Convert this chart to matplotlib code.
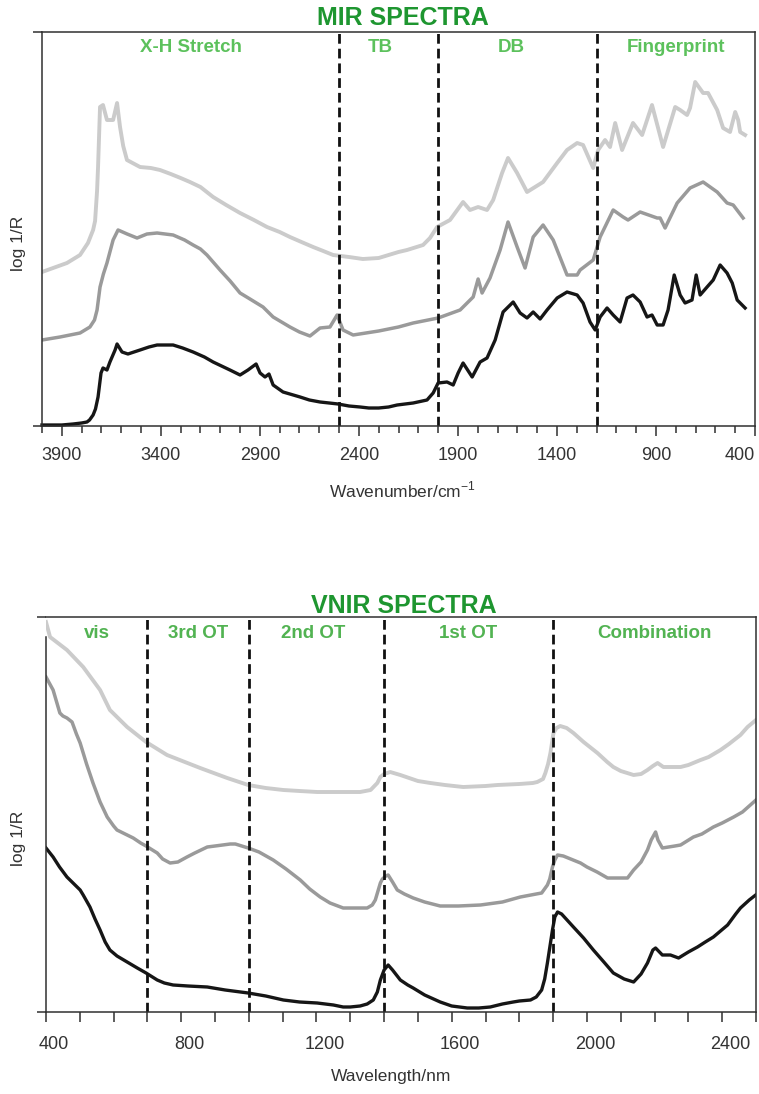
import matplotlib
matplotlib.use("Agg")
import matplotlib.pyplot as plt
from matplotlib.transforms import ScaledTranslation

plt.rcParams["font.family"] = ["Liberation Sans", "DejaVu Sans"]
plt.rcParams["mathtext.fontset"] = "custom"
plt.rcParams["mathtext.rm"] = "Liberation Sans"

# ---- MIR spectra (wavenumber / cm-1, log 1/R in arbitrary offset units) ----
MIR_WN_DARK = [4000, 3900, 3843, 3800, 3773, 3760, 3742, 3730, 3717, 3702, 3692, 3672,
               3657, 3631, 3621, 3596, 3566, 3505, 3460, 3419, 3380, 3338, 3290, 3237,
               3180, 3136, 3051, 3000, 2960, 2919, 2899, 2874, 2854, 2833, 2783, 2697,
               2650, 2596, 2550, 2505, 2450, 2394, 2350, 2300, 2250, 2207, 2126, 2056,
               2025, 2000, 1955, 1924, 1899, 1874, 1828, 1788, 1753, 1712, 1672, 1621,
               1586, 1551, 1520, 1485, 1450, 1399, 1349, 1298, 1268, 1233, 1207, 1182,
               1147, 1116, 1081, 1046, 1016, 980, 945, 920, 894, 864, 839, 808, 778,
               753, 718, 697, 677, 642, 611, 576, 541, 515, 490, 450]
MIR_DARK = [0.01, 0.01, 0.02, 0.03, 0.04, 0.06, 0.11, 0.17, 0.29, 0.53, 0.58, 0.56,
            0.64, 0.76, 0.82, 0.74, 0.72, 0.76, 0.79, 0.81, 0.81, 0.81, 0.78, 0.74,
            0.69, 0.64, 0.56, 0.51, 0.56, 0.62, 0.53, 0.49, 0.52, 0.41, 0.34, 0.29,
            0.26, 0.24, 0.23, 0.22, 0.20, 0.19, 0.18, 0.18, 0.19, 0.21, 0.23, 0.26,
            0.33, 0.43, 0.44, 0.41, 0.53, 0.63, 0.49, 0.64, 0.68, 0.86, 1.14, 1.24,
            1.13, 1.08, 1.14, 1.07, 1.16, 1.28, 1.34, 1.31, 1.23, 1.04, 0.96, 1.09,
            1.18, 1.11, 1.04, 1.28, 1.31, 1.24, 1.09, 1.11, 1.01, 1.01, 1.16, 1.51,
            1.31, 1.23, 1.26, 1.51, 1.31, 1.39, 1.46, 1.61, 1.53, 1.43, 1.26, 1.18]

MIR_WN_MID = [4000, 3909, 3808, 3758, 3735, 3722, 3707, 3690, 3672, 3641, 3616, 3570,
              3520, 3470, 3419, 3338, 3280, 3237, 3200, 3167, 3101, 3050, 3000, 2950,
              2884, 2833, 2748, 2700, 2647, 2596, 2546, 2510, 2480, 2429, 2300, 2200,
              2126, 2000, 1889, 1823, 1798, 1778, 1738, 1687, 1647, 1601, 1561, 1520,
              1470, 1419, 1349, 1298, 1283, 1217, 1182, 1116, 1066, 1041, 980, 894,
              879, 854, 793, 728, 662, 591, 541, 510, 460]
MIR_MID = [0.86, 0.89, 0.93, 0.99, 1.06, 1.16, 1.39, 1.52, 1.63, 1.86, 1.96, 1.92,
           1.88, 1.92, 1.93, 1.91, 1.86, 1.81, 1.77, 1.71, 1.56, 1.45, 1.33, 1.27,
           1.19, 1.09, 0.99, 0.94, 0.90, 0.98, 0.99, 1.11, 0.96, 0.91, 0.95, 0.99,
           1.03, 1.08, 1.16, 1.29, 1.47, 1.33, 1.48, 1.76, 2.04, 1.79, 1.58, 1.89,
           2.01, 1.86, 1.51, 1.51, 1.56, 1.66, 1.89, 2.16, 2.09, 2.06, 2.14, 2.08,
           2.08, 1.98, 2.23, 2.38, 2.44, 2.34, 2.23, 2.21, 2.08]

MIR_WN_LIGHT = [4000, 3874, 3808, 3768, 3742, 3732, 3722, 3717, 3707, 3692, 3672, 3641,
                3621, 3606, 3590, 3571, 3505, 3450, 3404, 3350, 3300, 3253, 3200, 3136,
                3070, 3000, 2930, 2864, 2800, 2748, 2690, 2631, 2580, 2530, 2450, 2380,
                2300, 2200, 2157, 2076, 2041, 2005, 1940, 1874, 1839, 1798, 1753, 1722,
                1677, 1647, 1601, 1551, 1470, 1399, 1349, 1298, 1268, 1217, 1192, 1157,
                1132, 1106, 1071, 1016, 970, 920, 864, 803, 778, 743, 728, 702, 662,
                637, 591, 561, 526, 500, 485, 475, 450]
MIR_LIGHT = [1.54, 1.63, 1.71, 1.83, 1.96, 2.05, 2.35, 2.59, 3.19, 3.21, 3.06, 3.06,
             3.23, 2.99, 2.80, 2.66, 2.59, 2.58, 2.56, 2.52, 2.48, 2.44, 2.39, 2.29,
             2.21, 2.13, 2.06, 1.99, 1.94, 1.89, 1.84, 1.79, 1.75, 1.71, 1.69, 1.67,
             1.68, 1.74, 1.76, 1.81, 1.88, 1.99, 2.06, 2.24, 2.16, 2.19, 2.16, 2.26,
             2.53, 2.68, 2.53, 2.34, 2.44, 2.63, 2.76, 2.83, 2.81, 2.58, 2.76, 2.86,
             2.79, 3.03, 2.76, 3.03, 2.91, 3.21, 2.79, 3.19, 3.16, 3.11, 3.18, 3.44,
             3.33, 3.33, 3.16, 2.98, 2.94, 3.14, 3.06, 2.94, 2.91]

MIR_BOUNDS = [2500, 2000, 1200]
MIR_REGIONS = ["X-H Stretch", "TB", "DB", "Fingerprint"]
MIR_REGION_X = [3250, 2290, 1630, 800]
MIR_TICKS = [3900, 3400, 2900, 2400, 1900, 1400, 900, 400]

# ---- VNIR spectra (wavelength / nm) ----
VNIR_NM_DARK = [400, 421, 440, 462, 480, 501, 510, 530, 545, 560, 575, 589, 610, 640,
                670, 696, 729, 750, 776, 820, 877, 930, 998, 1050, 1102, 1150, 1202,
                1250, 1279, 1300, 1329, 1350, 1368, 1380, 1389, 1400, 1412, 1425, 1448,
                1470, 1486, 1520, 1566, 1600, 1646, 1680, 1714, 1750, 1782, 1800, 1833,
                1850, 1866, 1875, 1883, 1898, 1905, 1913, 1925, 1960, 1990, 2019, 2050,
                2078, 2110, 2138, 2160, 2179, 2195, 2203, 2223, 2247, 2271, 2300, 2327,
                2350, 2374, 2416, 2440, 2454, 2480, 2499]
VNIR_DARK = [1.64, 1.55, 1.45, 1.35, 1.29, 1.22, 1.17, 1.05, 0.93, 0.82, 0.70, 0.62,
             0.56, 0.50, 0.44, 0.39, 0.32, 0.29, 0.27, 0.26, 0.25, 0.22, 0.19, 0.16,
             0.12, 0.10, 0.09, 0.07, 0.05, 0.05, 0.06, 0.08, 0.12, 0.20, 0.32, 0.42,
             0.47, 0.42, 0.32, 0.27, 0.24, 0.17, 0.10, 0.06, 0.04, 0.04, 0.05, 0.08,
             0.10, 0.11, 0.12, 0.15, 0.22, 0.33, 0.49, 0.82, 0.95, 1.00, 0.98, 0.85,
             0.74, 0.62, 0.50, 0.39, 0.33, 0.30, 0.38, 0.49, 0.62, 0.64, 0.57, 0.57,
             0.54, 0.60, 0.65, 0.70, 0.75, 0.87, 0.98, 1.04, 1.12, 1.17]

VNIR_NM_MID = [400, 421, 441, 450, 462, 477, 490, 501, 520, 539, 560, 581, 600, 610,
               640, 658, 680, 696, 710, 729, 745, 767, 790, 817, 840, 877, 900, 945,
               960, 998, 1030, 1072, 1110, 1152, 1180, 1211, 1240, 1279, 1300, 1330,
               1350, 1365, 1374, 1389, 1395, 1405, 1412, 1425, 1439, 1460, 1486, 1520,
               1566, 1620, 1685, 1750, 1803, 1850, 1866, 1883, 1890, 1898, 1905, 1913,
               1930, 1981, 2000, 2030, 2061, 2090, 2120, 2138, 2160, 2179, 2190, 2203,
               2210, 2223, 2260, 2277, 2315, 2340, 2374, 2400, 2434, 2460, 2500]
VNIR_MID = [3.35, 3.22, 2.99, 2.96, 2.94, 2.90, 2.78, 2.69, 2.48, 2.29, 2.10, 1.95,
            1.86, 1.82, 1.77, 1.74, 1.69, 1.66, 1.63, 1.59, 1.53, 1.49, 1.50, 1.55,
            1.59, 1.65, 1.66, 1.68, 1.68, 1.64, 1.60, 1.52, 1.43, 1.32, 1.23, 1.15,
            1.09, 1.04, 1.04, 1.04, 1.04, 1.07, 1.12, 1.29, 1.33, 1.36, 1.37, 1.30,
            1.22, 1.18, 1.14, 1.10, 1.06, 1.06, 1.07, 1.10, 1.15, 1.18, 1.19, 1.27,
            1.33, 1.45, 1.52, 1.57, 1.56, 1.49, 1.45, 1.40, 1.34, 1.34, 1.34, 1.42,
            1.50, 1.62, 1.72, 1.80, 1.72, 1.64, 1.66, 1.67, 1.75, 1.78, 1.85, 1.89,
            1.95, 2.00, 2.12]

VNIR_NM_LIGHT = [400, 412, 462, 510, 560, 589, 640, 696, 758, 856, 936, 998, 1050,
                 1102, 1150, 1202, 1250, 1300, 1329, 1360, 1380, 1389, 1400, 1418, 1448,
                 1500, 1537, 1580, 1634, 1700, 1735, 1800, 1840, 1853, 1870, 1877, 1885,
                 1892, 1901, 1910, 1921, 1940, 1960, 1990, 2031, 2060, 2078, 2100, 2138,
                 2160, 2179, 2195, 2209, 2226, 2240, 2277, 2300, 2336, 2360, 2395, 2420,
                 2454, 2475, 2500]
VNIR_LIGHT = [3.90, 3.75, 3.62, 3.45, 3.22, 3.02, 2.85, 2.70, 2.57, 2.44, 2.34, 2.27,
              2.24, 2.22, 2.21, 2.20, 2.20, 2.20, 2.20, 2.22, 2.29, 2.35, 2.38, 2.40,
              2.37, 2.31, 2.29, 2.27, 2.25, 2.26, 2.27, 2.28, 2.29, 2.30, 2.33, 2.39,
              2.48, 2.59, 2.79, 2.84, 2.86, 2.84, 2.79, 2.70, 2.59, 2.50, 2.45, 2.41,
              2.37, 2.38, 2.42, 2.46, 2.49, 2.45, 2.45, 2.45, 2.47, 2.52, 2.55, 2.62,
              2.68, 2.77, 2.85, 2.92]

VNIR_BOUNDS = [700, 1000, 1400, 1900]
VNIR_REGIONS = ["vis", "3rd OT", "2nd OT", "1st OT", "Combination"]
VNIR_REGION_X = [550, 850, 1190, 1650, 2200]
VNIR_TICKS = [400, 800, 1200, 1600, 2000, 2400]

LIGHT, MID, DARK = "#cbcbcb", "#9a9a9a", "#161616"
TITLE_GREEN = "#1e9630"
AX_COL = "#303030"


def style_axes(ax, ext):
    for s in ax.spines.values():
        s.set_color(AX_COL)
        s.set_linewidth(1.1)
    ax.set_yticks([])
    # the top and bottom frame lines poke out a little to the left
    for yy in (0, 1):
        ax.plot([-ext, 0], [yy, yy], transform=ax.transAxes, color=AX_COL,
                lw=1.1, clip_on=False, solid_capstyle="butt")


fig = plt.figure(figsize=(7.59, 10.94), dpi=100)

# ---------------- MIR ----------------
ax1 = fig.add_axes([42 / 759, 1 - 426 / 1094, 713 / 759, 394 / 1094])
ax1.plot(MIR_WN_LIGHT, MIR_LIGHT, color=LIGHT, lw=2.8, solid_joinstyle="round")
ax1.plot(MIR_WN_MID, MIR_MID, color=MID, lw=2.5, solid_joinstyle="round")
ax1.plot(MIR_WN_DARK, MIR_DARK, color=DARK, lw=2.4, solid_joinstyle="round",
         clip_on=False)
for b in MIR_BOUNDS:
    ax1.axvline(b, color="#111111", lw=2.0, dashes=(3.5, 1.8))
for name, xpos in zip(MIR_REGIONS, MIR_REGION_X):
    ax1.text(xpos, 3.78, name, ha="center", va="center", fontsize=13.5,
             fontweight="bold", color="#5cc15c")
ax1.set_xlim(4000, 400)
ax1.set_ylim(0, 3.94)
ax1.set_xticks(MIR_TICKS, [str(t) for t in MIR_TICKS])
ax1.set_xticks(range(4000, 399, -100), minor=True)
ax1.tick_params(axis="x", which="major", length=7, width=1.1, color=AX_COL,
                labelsize=13, labelcolor="#333333", pad=8)
ax1.tick_params(axis="x", which="minor", length=5, width=1.1, color=AX_COL)
ax1.get_xticklabels()[-1].set_horizontalalignment("right")
style_axes(ax1, 9 / 713)

fig.text(403 / 759, 1 - 18 / 1094, "MIR SPECTRA", ha="center", va="center",
         fontsize=18, fontweight="bold", color=TITLE_GREEN)
fig.text(402 / 759, 1 - 490 / 1094, "Wavenumber/cm$^{-1}$", ha="center",
         va="center", fontsize=12.5, color="#333333")
fig.text(18 / 759, 1 - 243 / 1094, "log 1/R", rotation=90, ha="center",
         va="center", fontsize=12.5, color="#333333")

# ---------------- VNIR ----------------
ax2 = fig.add_axes([46 / 759, 1 - 1012 / 1094, 710 / 759, 395 / 1094])
ax2.plot(VNIR_NM_LIGHT, VNIR_LIGHT, color=LIGHT, lw=2.8, solid_joinstyle="round")
ax2.plot(VNIR_NM_MID, VNIR_MID, color=MID, lw=2.5, solid_joinstyle="round")
ax2.plot(VNIR_NM_DARK, VNIR_DARK, color=DARK, lw=2.4, solid_joinstyle="round")
for b in VNIR_BOUNDS:
    ax2.axvline(b, color="#111111", lw=2.0, dashes=(3.5, 1.8))
for name, xpos in zip(VNIR_REGIONS, VNIR_REGION_X):
    ax2.text(xpos, 3.79, name, ha="center", va="center", fontsize=13.5,
             fontweight="bold", color="#52b352")
ax2.set_xlim(400, 2500)
ax2.set_ylim(0, 3.95)
ax2.set_xticks(VNIR_TICKS, [str(t) for t in VNIR_TICKS])
ax2.set_xticks(range(400, 2501, 100), minor=True)
ax2.tick_params(axis="x", which="both", length=7, width=1.1, color=AX_COL,
                labelsize=13, labelcolor="#333333", pad=10)
# labels in the source sit a few pixels right of their ticks
shift = ScaledTranslation(8 / 100, 0, fig.dpi_scale_trans)
for lab in ax2.get_xticklabels():
    lab.set_transform(lab.get_transform() + shift)
style_axes(ax2, 9 / 710)
ax2.spines["left"].set_bounds(0, 3.75)

fig.text(404 / 759, 1 - 606 / 1094, "VNIR SPECTRA", ha="center", va="center",
         fontsize=18, fontweight="bold", color=TITLE_GREEN)
fig.text(391 / 759, 1 - 1077 / 1094, "Wavelength/nm", ha="center",
         va="center", fontsize=12.5, color="#333333")
fig.text(18 / 759, 1 - 838 / 1094, "log 1/R", rotation=90, ha="center",
         va="center", fontsize=12.5, color="#333333")

fig.savefig("out.png", dpi=100)
